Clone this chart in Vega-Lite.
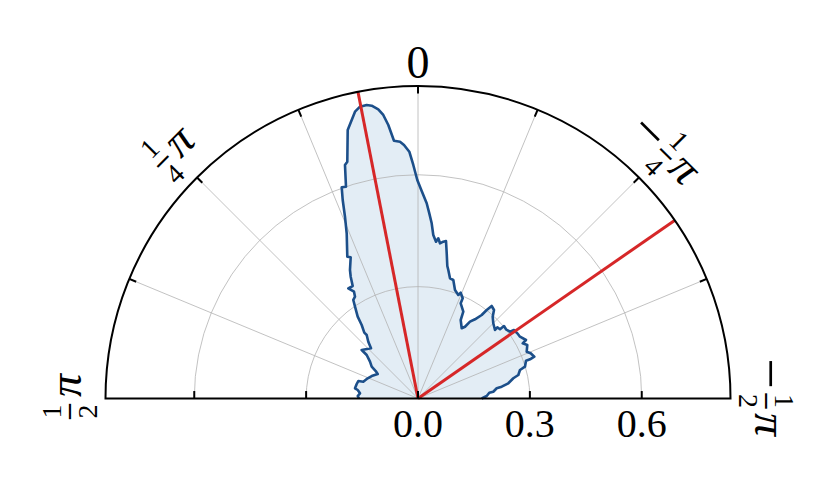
{
  "$schema": "https://vega.github.io/schema/vega-lite/v6.json",
  "width": 625,
  "height": 312.5,
  "autosize": {"type": "none"},
  "padding": {"left": 105.5, "top": 86, "right": 99.5, "bottom": 99.5},
  "background": "white",
  "config": {"view": {"stroke": null}},
  "datasets": {
    "blob": [
      {"i":1,"x":-0.1582,"y":0},{"i":2,"x":-0.1617,"y":0.0067},{"i":3,"x":-0.1555,"y":0.0139},{"i":4,"x":-0.1617,"y":0.0228},
      {"i":5,"x":-0.1689,"y":0.0274},{"i":6,"x":-0.1644,"y":0.0389},{"i":7,"x":-0.1601,"y":0.0469},{"i":8,"x":-0.1467,"y":0.0451},
      {"i":9,"x":-0.1349,"y":0.0542},{"i":10,"x":-0.1242,"y":0.0603},{"i":11,"x":-0.1081,"y":0.0657},{"i":12,"x":-0.1134,"y":0.0737},
      {"i":13,"x":-0.1242,"y":0.0853},{"i":14,"x":-0.1287,"y":0.0987},{"i":15,"x":-0.1376,"y":0.1167},{"i":16,"x":-0.1510,"y":0.1301},
      {"i":17,"x":-0.1260,"y":0.1346},{"i":18,"x":-0.1333,"y":0.1523},{"i":19,"x":-0.1376,"y":0.1703},{"i":20,"x":-0.1440,"y":0.1765},
      {"i":21,"x":-0.1510,"y":0.1971},{"i":22,"x":-0.1617,"y":0.2194},{"i":23,"x":-0.1689,"y":0.2462},{"i":24,"x":-0.1735,"y":0.2642},
      {"i":25,"x":-0.1689,"y":0.2730},{"i":26,"x":-0.1716,"y":0.2864},{"i":27,"x":-0.1869,"y":0.2955},{"i":28,"x":-0.1751,"y":0.3017},
      {"i":29,"x":-0.1805,"y":0.3266},{"i":30,"x":-0.1824,"y":0.3446},{"i":31,"x":-0.1805,"y":0.3787},{"i":32,"x":-0.1896,"y":0.3803},
      {"i":33,"x":-0.1912,"y":0.4430},{"i":34,"x":-0.1958,"y":0.4875},{"i":35,"x":-0.2019,"y":0.5323},{"i":36,"x":-0.2046,"y":0.5664},
      {"i":37,"x":-0.1931,"y":0.5680},{"i":38,"x":-0.1958,"y":0.6262},{"i":39,"x":-0.1896,"y":0.6350},{"i":40,"x":-0.1885,"y":0.7200},
      {"i":41,"x":-0.1689,"y":0.7691},{"i":42,"x":-0.1555,"y":0.7825},{"i":43,"x":-0.1376,"y":0.7871},{"i":44,"x":-0.1242,"y":0.7852},
      {"i":45,"x":-0.1065,"y":0.7756},{"i":46,"x":-0.0931,"y":0.7603},{"i":47,"x":-0.0796,"y":0.7334},{"i":48,"x":-0.0644,"y":0.6913},
      {"i":49,"x":-0.0483,"y":0.6887},{"i":50,"x":-0.0375,"y":0.6798},{"i":51,"x":-0.0233,"y":0.6618},{"i":52,"x":-0.0126,"y":0.6262},
      {"i":53,"x":-0.0019,"y":0.5860},{"i":54,"x":0.0099,"y":0.5564},{"i":55,"x":0.0233,"y":0.5235},{"i":56,"x":0.0303,"y":0.4966},
      {"i":57,"x":0.0367,"y":0.4698},{"i":58,"x":0.0410,"y":0.4385},{"i":59,"x":0.0483,"y":0.4205},{"i":60,"x":0.0544,"y":0.4296},
      {"i":61,"x":0.0590,"y":0.4162},{"i":62,"x":0.0678,"y":0.4205},{"i":63,"x":0.0751,"y":0.4224},{"i":64,"x":0.0770,"y":0.3894},
      {"i":65,"x":0.0786,"y":0.3553},{"i":66,"x":0.0813,"y":0.3446},{"i":67,"x":0.0858,"y":0.3223},{"i":68,"x":0.0947,"y":0.3178},
      {"i":69,"x":0.0992,"y":0.2910},{"i":70,"x":0.1081,"y":0.2776},{"i":71,"x":0.1145,"y":0.2837},{"i":72,"x":0.1199,"y":0.2687},
      {"i":73,"x":0.1145,"y":0.2553},{"i":74,"x":0.1215,"y":0.2328},{"i":75,"x":0.1145,"y":0.2105},{"i":76,"x":0.1172,"y":0.1883},
      {"i":77,"x":0.1260,"y":0.1925},{"i":78,"x":0.1394,"y":0.2060},{"i":79,"x":0.1529,"y":0.2124},{"i":80,"x":0.1708,"y":0.2239},
      {"i":81,"x":0.1842,"y":0.2373},{"i":82,"x":0.1976,"y":0.2481},{"i":83,"x":0.2038,"y":0.2373},{"i":84,"x":0.2003,"y":0.2194},
      {"i":85,"x":0.2019,"y":0.2017},{"i":86,"x":0.2065,"y":0.1837},{"i":87,"x":0.2127,"y":0.1909},{"i":88,"x":0.2199,"y":0.1856},
      {"i":89,"x":0.2306,"y":0.1944},{"i":90,"x":0.2360,"y":0.1856},{"i":91,"x":0.2467,"y":0.1791},{"i":92,"x":0.2574,"y":0.1837},
      {"i":93,"x":0.2663,"y":0.1748},{"i":94,"x":0.2735,"y":0.1657},{"i":95,"x":0.2896,"y":0.1569},{"i":96,"x":0.2808,"y":0.1480},
      {"i":97,"x":0.2931,"y":0.1435},{"i":98,"x":0.2915,"y":0.1255},{"i":99,"x":0.3022,"y":0.1212},{"i":100,"x":0.3119,"y":0.1121},
      {"i":101,"x":0.3004,"y":0.1051},{"i":102,"x":0.2896,"y":0.1014},{"i":103,"x":0.2869,"y":0.0853},{"i":104,"x":0.2735,"y":0.0764},
      {"i":105,"x":0.2690,"y":0.0630},{"i":106,"x":0.2556,"y":0.0542},{"i":107,"x":0.2422,"y":0.0408},{"i":108,"x":0.2245,"y":0.0316},
      {"i":109,"x":0.2110,"y":0.0274},{"i":110,"x":0.2019,"y":0.0182},{"i":111,"x":0.1912,"y":0.0156},{"i":112,"x":0.1842,"y":0.0067},
      {"i":113,"x":0.1708,"y":0}
    ],
    "rings": [{"r": 0.3}, {"r": 0.6}],
    "outer": [{"r": 0.838}],
    "spokes": [
      {"x": 0, "y": 0.838},
      {"x": -0.32069, "y": 0.77421}, {"x": 0.32069, "y": 0.77421},
      {"x": -0.59256, "y": 0.59256}, {"x": 0.59256, "y": 0.59256},
      {"x": -0.77421, "y": 0.32069}, {"x": 0.77421, "y": 0.32069}
    ],
    "angticks": [
      {"x": 0, "y": 0.818, "x2": 0, "y2": 0.838},
      {"x": -0.31303, "y": 0.75573, "x2": -0.32069, "y2": 0.77421},
      {"x": 0.31303, "y": 0.75573, "x2": 0.32069, "y2": 0.77421},
      {"x": -0.57841, "y": 0.57841, "x2": -0.59256, "y2": 0.59256},
      {"x": 0.57841, "y": 0.57841, "x2": 0.59256, "y2": 0.59256},
      {"x": -0.75573, "y": 0.31303, "x2": -0.77421, "y2": 0.32069},
      {"x": 0.75573, "y": 0.31303, "x2": 0.77421, "y2": 0.32069}
    ],
    "rticks": [{"x": -0.6}, {"x": -0.3}, {"x": 0}, {"x": 0.3}, {"x": 0.6}],
    "means": [{"x": -0.1609, "y": 0.8219}, {"x": 0.6880, "y": 0.4775}],
    "labels": [
      {"t": 0.7854, "num": "1", "den": "4"},
      {"t": 1.5708, "num": "1", "den": "2"},
      {"t": -0.7854, "num": "1", "den": "4"},
      {"t": -1.5708, "num": "1", "den": "2"}
    ],
    "toplabel": [{"t": 0, "label": "0"}]
  },
  "layer": [
    {
      "data": {"name": "blob"},
      "mark": {"type": "line", "fill": "#e3edf5", "stroke": "transparent", "strokeWidth": 0},
      "encoding": {
        "x": {"field": "x", "type": "quantitative", "scale": {"domain": [-0.838, 0.838], "nice": false, "zero": false}, "axis": null},
        "y": {"field": "y", "type": "quantitative", "scale": {"domain": [0, 0.838], "nice": false}, "axis": null},
        "order": {"field": "i", "type": "quantitative"}
      }
    },
    {
      "data": {"name": "rings"},
      "mark": {"type": "arc", "filled": false, "stroke": "#b3b3b3", "strokeWidth": 0.8, "theta": -1.5708, "theta2": 1.5708},
      "encoding": {
        "x": {"datum": 0, "type": "quantitative", "axis": null},
        "y": {"datum": 0, "type": "quantitative", "axis": null},
        "radius": {"field": "r", "type": "quantitative", "stack": null, "scale": {"type": "linear", "domain": [0, 0.838], "range": [0, 312.5]}}
      }
    },
    {
      "data": {"name": "spokes"},
      "mark": {"type": "rule", "stroke": "#b3b3b3", "strokeWidth": 0.8},
      "encoding": {
        "x": {"field": "x", "type": "quantitative", "axis": null},
        "y": {"field": "y", "type": "quantitative", "axis": null},
        "x2": {"datum": 0},
        "y2": {"datum": 0}
      }
    },
    {
      "data": {"name": "blob"},
      "mark": {"type": "line", "stroke": "#1c4f8a", "strokeWidth": 2.6, "strokeJoin": "round"},
      "encoding": {
        "x": {"field": "x", "type": "quantitative", "axis": null},
        "y": {"field": "y", "type": "quantitative", "axis": null},
        "order": {"field": "i", "type": "quantitative"}
      }
    },
    {
      "data": {"name": "means"},
      "mark": {"type": "rule", "stroke": "#d62728", "strokeWidth": 3},
      "encoding": {
        "x": {"field": "x", "type": "quantitative", "axis": null},
        "y": {"field": "y", "type": "quantitative", "axis": null},
        "x2": {"datum": 0},
        "y2": {"datum": 0}
      }
    },
    {
      "data": {"name": "outer"},
      "mark": {"type": "arc", "filled": false, "stroke": "black", "strokeWidth": 2, "theta": -1.5708, "theta2": 1.5708},
      "encoding": {
        "x": {"datum": 0, "type": "quantitative", "axis": null},
        "y": {"datum": 0, "type": "quantitative", "axis": null},
        "radius": {"field": "r", "type": "quantitative", "stack": null, "scale": {"type": "linear", "domain": [0, 0.838], "range": [0, 312.5]}}
      }
    },
    {
      "data": {"name": "angticks"},
      "mark": {"type": "rule", "stroke": "black", "strokeWidth": 2},
      "encoding": {
        "x": {"field": "x", "type": "quantitative", "axis": null},
        "y": {"field": "y", "type": "quantitative", "axis": null},
        "x2": {"field": "x2"},
        "y2": {"field": "y2"}
      }
    },
    {
      "data": {"name": "rticks"},
      "mark": {"type": "rule", "stroke": "black", "strokeWidth": 2},
      "encoding": {
        "x": {"field": "x", "type": "quantitative", "axis": null},
        "y": {"datum": 0, "type": "quantitative", "axis": null},
        "y2": {"datum": 0.02}
      }
    },
    {
      "data": {"name": "rticks"},
      "transform": [{"filter": "datum.x >= 0"}],
      "mark": {"type": "text", "font": "Liberation Serif", "fontSize": 40, "align": "center", "baseline": "top", "dy": 6, "color": "black"},
      "encoding": {
        "x": {"field": "x", "type": "quantitative", "axis": null},
        "y": {"datum": 0, "type": "quantitative", "axis": null},
        "text": {"field": "x", "type": "quantitative", "format": ".1f"}
      }
    },
    {
      "data": {"name": "toplabel"},
      "mark": {"type": "text", "font": "Liberation Serif", "fontSize": 46, "align": "center", "baseline": "middle", "color": "black"},
      "encoding": {
        "x": {"datum": 0, "type": "quantitative", "axis": null},
        "y": {"datum": 0, "type": "quantitative", "axis": null},
        "theta": {"field": "t", "type": "quantitative", "stack": null, "scale": {"domain": [-1.5708, 1.5708], "range": [1.5708, -1.5708]}},
        "radius": {"datum": 0.8965, "type": "quantitative", "scale": {"type": "linear", "domain": [0, 0.838], "range": [0, 312.5]}},
        "text": {"field": "label"}
      }
    },
    {
      "data": {"name": "labels"},
      "transform": [{"filter": "datum.t > 0"}],
      "layer": [
        {"mark": {"type": "text", "font": "Liberation Serif", "fontSize": 28, "align": "center", "baseline": "middle", "color": "black", "dx": -13, "dy": -17.4},
         "encoding": {"text": {"field": "num"}}},
        {"mark": {"type": "text", "font": "Liberation Serif", "fontWeight": "bold", "fontSize": 30, "align": "center", "baseline": "middle", "color": "black", "dx": -13, "dy": -2, "text": "–"}},
        {"mark": {"type": "text", "font": "Liberation Serif", "fontSize": 28, "align": "center", "baseline": "middle", "color": "black", "dx": -13, "dy": 18.6},
         "encoding": {"text": {"field": "den"}}},
        {"mark": {"type": "text", "font": "Liberation Serif", "fontStyle": "italic", "fontSize": 46, "align": "center", "baseline": "middle", "color": "black", "dx": 13, "dy": -3, "text": "π"}}
      ],
      "encoding": {
        "x": {"datum": 0, "type": "quantitative", "axis": null},
        "y": {"datum": 0, "type": "quantitative", "axis": null},
        "theta": {"field": "t", "type": "quantitative", "stack": null, "scale": {"domain": [-1.5708, 1.5708], "range": [1.5708, -1.5708]}},
        "radius": {"datum": 0.9332, "type": "quantitative", "scale": {"type": "linear", "domain": [0, 0.838], "range": [0, 312.5]}},
        "angle": {"field": "t", "type": "quantitative", "scale": {"domain": [-1.5708, 1.5708], "range": [90, -90]}}
      }
    },
    {
      "data": {"name": "labels"},
      "transform": [{"filter": "datum.t < 0"}],
      "layer": [
        {"mark": {"type": "text", "font": "Liberation Serif", "fontSize": 54, "align": "center", "baseline": "middle", "color": "black", "dx": -25, "dy": -3, "text": "−"}},
        {"mark": {"type": "text", "font": "Liberation Serif", "fontSize": 28, "align": "center", "baseline": "middle", "color": "black", "dx": 2.5, "dy": -17.4},
         "encoding": {"text": {"field": "num"}}},
        {"mark": {"type": "text", "font": "Liberation Serif", "fontWeight": "bold", "fontSize": 30, "align": "center", "baseline": "middle", "color": "black", "dx": 2.5, "dy": -2, "text": "–"}},
        {"mark": {"type": "text", "font": "Liberation Serif", "fontSize": 28, "align": "center", "baseline": "middle", "color": "black", "dx": 2.5, "dy": 18.6},
         "encoding": {"text": {"field": "den"}}},
        {"mark": {"type": "text", "font": "Liberation Serif", "fontStyle": "italic", "fontSize": 46, "align": "center", "baseline": "middle", "color": "black", "dx": 26, "dy": -3, "text": "π"}}
      ],
      "encoding": {
        "x": {"datum": 0, "type": "quantitative", "axis": null},
        "y": {"datum": 0, "type": "quantitative", "axis": null},
        "theta": {"field": "t", "type": "quantitative", "stack": null, "scale": {"domain": [-1.5708, 1.5708], "range": [1.5708, -1.5708]}},
        "radius": {"datum": 0.9332, "type": "quantitative", "scale": {"type": "linear", "domain": [0, 0.838], "range": [0, 312.5]}},
        "angle": {"field": "t", "type": "quantitative", "scale": {"domain": [-1.5708, 1.5708], "range": [90, -90]}}
      }
    }
  ]
}
